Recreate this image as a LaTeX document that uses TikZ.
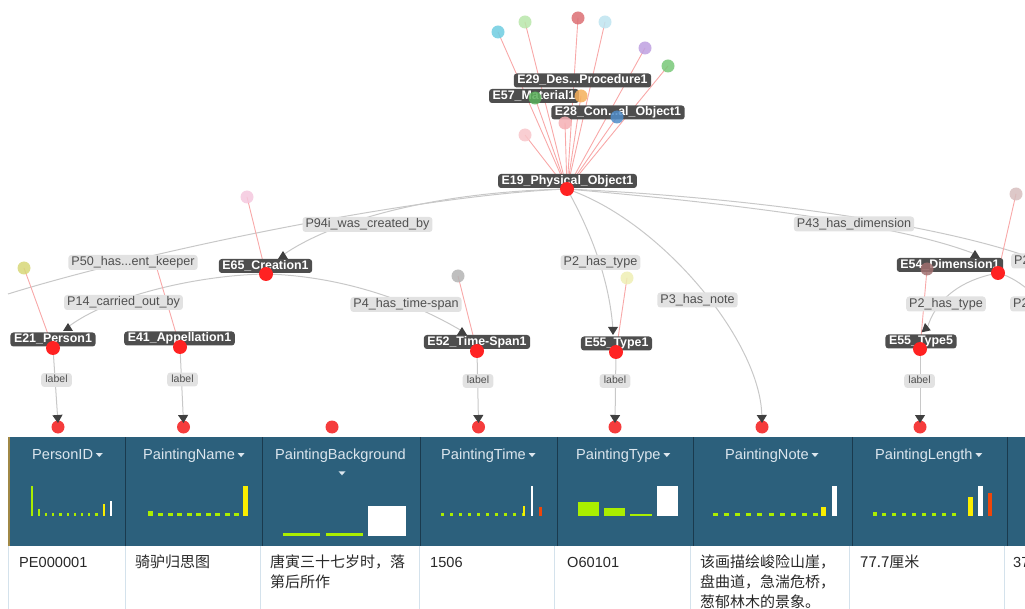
\documentclass[tikz,border=0pt]{standalone}
\usepackage{fontspec}
\setmainfont{Liberation Sans}
\newfontfamily\cjkfont{Noto Sans CJK SC}
\usetikzlibrary{arrows.meta}

% palette
\definecolor{hdr}{RGB}{44,96,124}
\definecolor{hdrtext}{RGB}{220,230,238}
\definecolor{hdrsep}{RGB}{26,58,78}
\definecolor{hdrgold}{RGB}{160,136,70}
\definecolor{bodysep}{RGB}{212,226,236}
\definecolor{celltext}{RGB}{40,40,40}
\definecolor{edgec}{RGB}{200,200,200}
\definecolor{redline}{RGB}{248,168,168}
\definecolor{entbox}{RGB}{78,78,78}
\definecolor{relbox}{RGB}{226,226,226}
\definecolor{reltext}{RGB}{80,80,80}
\definecolor{markc}{RGB}{64,64,64}
\definecolor{dotred}{RGB}{255,34,34}
\definecolor{tabdot}{RGB}{245,60,60}
\definecolor{barg}{RGB}{170,238,0}
\definecolor{bary}{RGB}{250,238,0}
\definecolor{barr}{RGB}{240,70,10}
% attribute dot colours
\definecolor{acyan}{RGB}{110,205,225}
\definecolor{alime}{RGB}{185,230,170}
\definecolor{ared}{RGB}{220,110,115}
\definecolor{asky}{RGB}{190,228,240}
\definecolor{apurple}{RGB}{190,160,225}
\definecolor{agreen}{RGB}{120,200,120}
\definecolor{aorange}{RGB}{245,175,90}
\definecolor{adgreen}{RGB}{90,175,90}
\definecolor{ablue}{RGB}{80,140,200}
\definecolor{apink}{RGB}{245,175,180}
\definecolor{apale}{RGB}{248,198,202}
\definecolor{arose}{RGB}{245,200,222}
\definecolor{aolive}{RGB}{215,215,120}
\definecolor{agrey}{RGB}{180,180,180}
\definecolor{acream}{RGB}{238,238,180}
\definecolor{amauve}{RGB}{215,190,190}
\definecolor{abrown}{RGB}{160,110,110}

\tikzset{
  tri/.pic={\fill[markc] (-5,4) -- (5,4) -- (0,-4) -- cycle;},
  caret/.pic={\fill[hdrtext] (-3.5,-2) -- (3.5,-2) -- (0,2) -- cycle;}
}

\begin{document}
\begin{tikzpicture}[x=1pt,y=-1pt,
  entity/.style={fill=entbox,text=white,rounded corners=3pt,inner xsep=3.6pt,inner ysep=1.2pt,
    text height=9pt,text depth=2.6pt,font=\fontsize{12.4}{14}\selectfont\bfseries},
  rel/.style={fill=relbox,text=reltext,rounded corners=3pt,inner xsep=3pt,inner ysep=1.5pt,
    text height=9.3pt,text depth=2.7pt,font=\fontsize{12.6}{14}\selectfont},
  lbl/.style={fill=relbox,text=reltext,rounded corners=3pt,inner xsep=4.2pt,inner ysep=1.7pt,
    text height=8pt,text depth=2.4pt,font=\fontsize{10.5}{12}\selectfont},
  edge/.style={draw=edgec,line width=1pt},
  arrowed/.style={edge,-{Triangle[width=10pt,length=8pt,color=markc]}},
  attr/.style={draw=redline,line width=0.9pt},
  hdrtitle/.style={anchor=base west,inner sep=0pt,text=hdrtext,font=\fontsize{14.6}{16}\selectfont},
  cell/.style={anchor=base west,inner sep=0pt,text=celltext,font=\fontsize{14.6}{18}\selectfont},
  cellc/.style={anchor=base west,inner sep=0pt,text=celltext,font=\cjkfont\fontsize{15}{18}\selectfont}
]
\useasboundingbox (0,0) rectangle (1025,609);
\clip (0,0) rectangle (1025,609);

% ---------------- table header and body ----------------
\fill[hdr] (8,437) rectangle (1035,546);
\draw[hdrgold,line width=1.6pt] (8.8,437) -- (8.8,546);
\foreach \x in {125.5,262,420,557,693,852,1007}
  \draw[hdrsep,line width=1pt] (\x,437) -- (\x,546);
\foreach \x in {8.5,125,260,419,554,690,849,1004}
  \draw[bodysep,line width=1pt] (\x,546) -- (\x,609);

% column titles
\node[hdrtitle] (h1) at (32,459.5) {PersonID};
\node[hdrtitle] (h2) at (143,459.5) {PaintingName};
\node[hdrtitle] (h3) at (275,459.5) {PaintingBackground};
\node[hdrtitle] (h4) at (441,459.5) {PaintingTime};
\node[hdrtitle] (h5) at (576,459.5) {PaintingType};
\node[hdrtitle] (h6) at (725,459.5) {PaintingNote};
\node[hdrtitle] (h7) at (875,459.5) {PaintingLength};
\foreach \h in {h1,h2,h4,h5,h6,h7}
  \pic at ([shift={(6,-4.5)}]\h.base east) {caret};
\pic at (342,473.3) {caret};

% column histograms
% PersonID
\fill[barg] (30.5,486) rectangle (32.8,516);
\fill[barg] (37.7,509) rectangle (40,516);
\foreach \i in {2,...,9} \fill[barg] (30.5+7.2*\i,513) rectangle (32.8+7.2*\i,516);
\fill[bary] (102.5,504) rectangle (104.8,516);
\fill[white] (109.7,500.5) rectangle (112,516);
% PaintingName
\fill[barg] (148,511) rectangle (153,516);
\foreach \i in {0,...,8} \fill[barg] (158+9.5*\i,513) rectangle (163+9.5*\i,516);
\fill[bary] (243,486) rectangle (248,516);
% PaintingBackground
\fill[barg] (283,532.5) rectangle (320,535.5);
\fill[barg] (326,532.5) rectangle (363,535.5);
\fill[white] (368,505.5) rectangle (406,535.5);
% PaintingTime
\foreach \i in {0,...,9} \fill[barg] (441+9.05*\i,512.5) rectangle (443.5+9.05*\i,516);
\fill[bary] (522.5,505.5) rectangle (525,516);
\fill[white] (530.8,486) rectangle (533.3,516);
\fill[barr] (539.2,507) rectangle (541.7,516);
% PaintingType
\fill[barg] (577.5,502) rectangle (599,516);
\fill[barg] (604,508.3) rectangle (625,516);
\fill[barg] (630,514) rectangle (652,516);
\fill[white] (657,486) rectangle (678,516);
% PaintingNote
\foreach \i in {0,...,9} \fill[barg] (713+11.1*\i,513) rectangle (718+11.1*\i,516);
\fill[bary] (821,507) rectangle (826,516);
\fill[white] (831.5,486) rectangle (836.5,516);
% PaintingLength
\fill[barg] (872.5,511.5) rectangle (876.5,516);
\foreach \i in {1,...,8} \fill[barg] (872.5+9.98*\i,513) rectangle (876.5+9.98*\i,516);
\fill[bary] (968,497) rectangle (973,516);
\fill[white] (978,486) rectangle (983,516);
\fill[barr] (987.5,493) rectangle (991.5,516);

% first row of values
\node[cell]  (v1) at (19,567) {PE000001};
\node[cellc] (v2) at (135,567) {骑驴归思图};
\node[cellc] (v3a) at (270,567) {唐寅三十七岁时，落};
\node[cellc] (v3b) at (270,587) {第后所作};
\node[cell]  (v4) at (430,567) {1506};
\node[cell]  (v5) at (567,567) {O60101};
\node[cellc] (v6a) at (700,567) {该画描绘峻险山崖，};
\node[cellc] (v6b) at (700,587) {盘曲道，急湍危桥，};
\node[cellc] (v6c) at (700,607) {葱郁林木的景象。};
\node[cellc] (v7) at (860,567) {77.7厘米};
\node[cell]  (v8) at (1013,567) {37};

% ---------------- graph ----------------
% entity anchors (red dots)
\coordinate (e19d) at (567,189);
\coordinate (e65d) at (266,274);
\coordinate (e21d) at (53,348);
\coordinate (e41d) at (180,347);
\coordinate (e52d) at (477,351);
\coordinate (e551d) at (616,352);
\coordinate (e54d) at (998,273);
\coordinate (e555d) at (920,349);
% arrow markers on entity labels
\coordinate (m65) at (283,255);
\coordinate (m21) at (68,327);
\coordinate (m52) at (462,331);
\coordinate (m551) at (613,331);
\coordinate (m54) at (975,254);
\coordinate (m555) at (927,329);
% edges leaving the view
\coordinate (lftend) at (8,294);
\coordinate (rgtA) at (1032,258);
\coordinate (rgtB) at (1032,293);
% column anchors above the table
\coordinate (c1) at (58,427);
\coordinate (c2) at (183.5,427);
\coordinate (c3) at (332,427);
\coordinate (c4) at (478.5,427);
\coordinate (c5) at (615,427);
\coordinate (c6) at (762,427);
\coordinate (c7) at (920,427);
\coordinate (t1) at (58,423);
\coordinate (t2) at (183.5,423);
\coordinate (t4) at (478.5,423);
\coordinate (t5) at (615,423);
\coordinate (t6) at (762,423);
\coordinate (t7) at (920,423);
% attribute dots
\coordinate (a1) at (498,32);
\coordinate (a2) at (525,22);
\coordinate (a3) at (578,18);
\coordinate (a4) at (605,22);
\coordinate (a5) at (645,48);
\coordinate (a6) at (668,66);
\coordinate (a7) at (581,96);
\coordinate (a8) at (535,98);
\coordinate (a9) at (617,117);
\coordinate (a10) at (565,123);
\coordinate (a11) at (525,135);
\coordinate (b65) at (247,197);
\coordinate (b21) at (24,268);
\coordinate (b41) at (155,262);
\coordinate (b52) at (458,276);
\coordinate (b551) at (627,278);
\coordinate (b54) at (1016,194);
\coordinate (b555) at (927,269);

% column dots
\foreach \c in {c1,c2,c3,c4,c5,c6,c7} \fill[tabdot] (\c) circle (6.5pt);

% relation edges
\draw[edge] (e19d) .. controls (420,195) and (150,250) .. (lftend);
\draw[edge] (e19d) .. controls (430,192) and (330,222) .. (m65);
\draw[edge] (e65d) .. controls (200,275) and (110,295) .. (m21);
\draw[edge] (e65d) .. controls (340,276) and (410,300) .. (m52);
\draw[edge] (e19d) .. controls (590,230) and (610,280) .. (m551);
\draw[arrowed] (e19d) .. controls (660,220) and (760,340) .. (t6);
\draw[edge] (e19d) .. controls (750,205) and (900,225) .. (m54);
\draw[edge] (e19d) .. controls (760,198) and (940,225) .. (rgtA);
\draw[edge] (e54d) .. controls (960,280) and (935,300) .. (m555);
\draw[edge] (e54d) .. controls (1010,276) and (1022,284) .. (rgtB);
% label edges into the table columns
\draw[arrowed] (e21d) -- (t1);
\draw[arrowed] (e41d) -- (t2);
\draw[arrowed] (e52d) -- (t4);
\draw[arrowed] (e551d) -- (t5);
\draw[arrowed] (e555d) -- (t7);

% attribute links
\foreach \p in {a1,a2,a3,a4,a5,a6,a7,a8,a9,a10,a11} \draw[attr] (e19d) -- (\p);
\draw[attr] (e65d) -- (b65);
\draw[attr] (e21d) -- (b21);
\draw[attr] (e41d) -- (b41);
\draw[attr] (e52d) -- (b52);
\draw[attr] (e551d) -- (b551);
\draw[attr] (e54d) -- (b54);
\draw[attr] (e555d) -- (b555);

% relation labels
\node[rel] (r50) at (133,262.5) {P50\_has...ent\_keeper};
\node[rel] (r14) at (123.5,302.5) {P14\_carried\_out\_by};
\node[rel] (r94) at (367.5,224.5) {P94i\_was\_created\_by};
\node[rel] (r4) at (406,304.5) {P4\_has\_time-span};
\node[rel] (r2a) at (600.5,262.5) {P2\_has\_type};
\node[rel] (r3) at (697.5,300) {P3\_has\_note};
\node[rel] (r43) at (854,224) {P43\_has\_dimension};
\node[rel] (r2b) at (946,304) {P2\_has\_type};
\node[rel,anchor=west] (r2c) at (1011,261) {P2};
\node[rel,anchor=west] (r2d) at (1010,304) {P2};
\node[lbl] (l1) at (56.5,380) {label};
\node[lbl] (l2) at (182.5,379.5) {label};
\node[lbl] (l4) at (478,381) {label};
\node[lbl] (l5) at (615,381) {label};
\node[lbl] (l7) at (919.5,381) {label};

% entity labels
\node[entity] (e29) at (582.5,80.5) {E29\_Des...Procedure1};
\node[entity] (e57) at (534,96) {E57\_Material1};
\node[entity] (e28) at (618,112.5) {E28\_Con...al\_Object1};
\node[entity] (e19) at (567.5,181) {E19\_Physical\_Object1};
\node[entity] (e65) at (265.5,266) {E65\_Creation1};
\node[entity] (e21) at (53,339.5) {E21\_Person1};
\node[entity] (e41) at (179.5,338.5) {E41\_Appellation1};
\node[entity] (e52) at (477,342) {E52\_Time-Span1};
\node[entity] (e551) at (616.5,343.5) {E55\_Type1};
\node[entity] (e54) at (950,265) {E54\_Dimension1};
\node[entity] (e555) at (921,341.5) {E55\_Type5};

% attribute dots
\foreach \p/\c in {a1/acyan,a2/alime,a3/ared,a4/asky,a5/apurple,a6/agreen,a7/aorange,
    a8/adgreen,a9/ablue,a10/apink,a11/apale,b65/arose,b21/aolive,b52/agrey,
    b551/acream,b54/amauve,b555/abrown}
  \fill[\c,fill opacity=0.85] (\p) circle (6.5pt);

% entity dots
\foreach \p in {e19d,e65d,e21d,e41d,e52d,e551d,e54d,e555d}
  \fill[dotred] (\p) circle (7pt);

% arrow markers
\pic at (m65) {tri};
\pic at (m21) {tri};
\pic at (m52) {tri};
\pic at (m54) {tri};
\pic[rotate=180] at (m551) {tri};
\pic[rotate=-110] at (m555) {tri};
\end{tikzpicture}
\end{document}
